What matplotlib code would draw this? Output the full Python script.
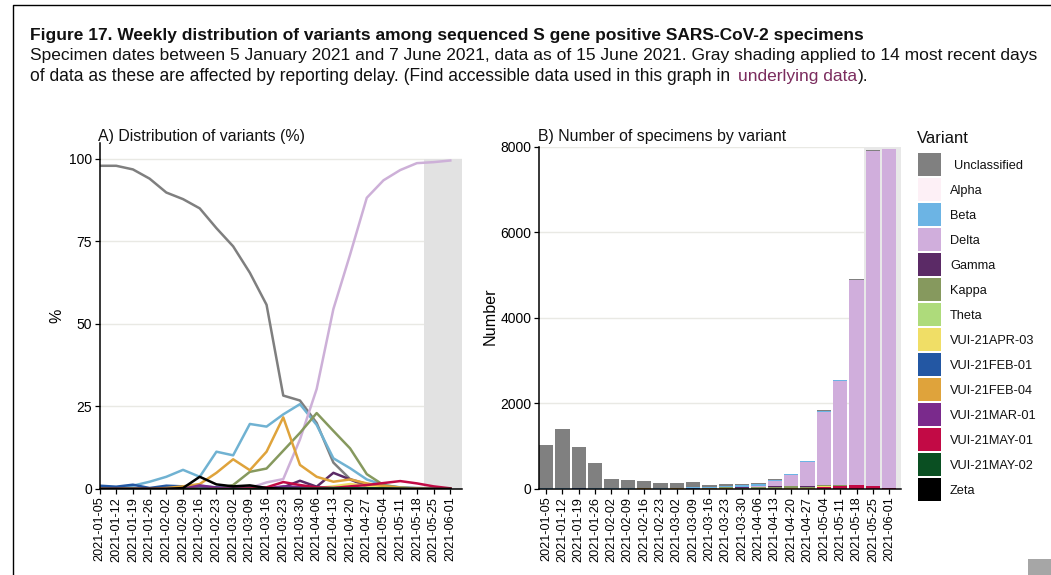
import matplotlib
matplotlib.use("Agg")
import matplotlib.pyplot as plt
import numpy as np
from matplotlib.patches import Rectangle

plt.rcParams["font.family"] = ["Liberation Sans", "DejaVu Sans"]

W, H = 1051, 575

weeks = ["2021-01-05", "2021-01-12", "2021-01-19", "2021-01-26", "2021-02-02", "2021-02-09",
         "2021-02-16", "2021-02-23", "2021-03-02", "2021-03-09", "2021-03-16", "2021-03-23",
         "2021-03-30", "2021-04-06", "2021-04-13", "2021-04-20", "2021-04-27", "2021-05-04",
         "2021-05-11", "2021-05-18", "2021-05-25", "2021-06-01"]

variants = ["Unclassified", "Alpha", "Beta", "Delta", "Gamma", "Kappa", "Theta", "VUI-21APR-03",
            "VUI-21FEB-01", "VUI-21FEB-04", "VUI-21MAR-01", "VUI-21MAY-01", "VUI-21MAY-02", "Zeta"]
colors = ["#808080", "#FDF0F6", "#6CB4E4", "#D0AEDC", "#5B2A66", "#86995E", "#AEDB7B", "#F0DE66",
          "#2357A3", "#DFA33B", "#7A2A8C", "#C20A45", "#0A4F22", "#000000"]
line_colors = ["#7F7F7F", "#FDF0F6", "#70B2D2", "#CDB0D8", "#5B2A66", "#86995E", "#AEDB7B", "#F0DE66",
               "#2357A3", "#DFA33B", "#7A2A8C", "#C20A45", "#0A4F22", "#000000"]

# panel A, percent per week
unclassified = [97.9, 97.9, 96.8, 94.0, 89.8, 87.8, 85.0, 79.0, 73.5, 65.5, 55.8, 28.3,
                26.8, 20.0, 8.0, 3.0, 1.5, 0.8, 0.5, 0.3, 0.2, 0.1]
alpha = [0.0] * 22
beta = [0.5, 0.5, 1.0, 2.2, 3.7, 5.8, 3.7, 11.3, 10.2, 19.7, 18.9, 22.6,
        25.7, 19.4, 9.3, 6.3, 2.9, 1.2, 0.5, 0.2, 0.1, 0.0]
delta = [0.0, 0.0, 0.0, 0.0, 0.0, 0.0, 0.0, 0.0, 0.0, 0.3, 2.0, 3.0,
         15.0, 30.3, 54.5, 71.0, 88.2, 93.5, 96.6, 98.7, 99.0, 99.5]
gamma = [0.0, 0.0, 0.0, 0.0, 0.0, 0.2, 0.8, 0.3, 0.3, 0.5, 0.2, 0.5,
         2.5, 0.7, 4.9, 2.9, 0.8, 0.4, 0.2, 0.1, 0.0, 0.0]
kappa = [0.0, 0.0, 0.0, 0.0, 0.0, 0.0, 0.0, 0.0, 1.2, 5.2, 6.2, 11.6,
         17.0, 23.0, 17.6, 12.3, 4.5, 1.2, 0.4, 0.1, 0.0, 0.0]
theta = [0.0, 0.0, 0.0, 0.0, 0.0, 0.0, 0.0, 0.2, 0.3, 0.2, 0.2, 0.2,
         0.1, 0.1, 0.1, 0.0, 0.0, 0.0, 0.0, 0.0, 0.0, 0.0]
vui_apr03 = [0.0, 0.0, 0.0, 0.0, 0.0, 0.0, 0.0, 0.0, 0.0, 0.0, 0.0, 0.0,
             0.1, 0.3, 0.8, 1.5, 1.0, 0.5, 0.2, 0.1, 0.0, 0.0]
vui_feb01 = [1.0, 0.7, 1.3, 0.3, 1.0, 0.8, 0.8, 0.5, 0.2, 0.2, 0.1, 0.1,
             0.1, 0.0, 0.0, 0.0, 0.0, 0.0, 0.0, 0.0, 0.0, 0.0]
vui_feb04 = [0.0, 0.0, 0.0, 0.0, 0.3, 0.8, 1.5, 4.9, 9.0, 5.7, 11.3, 21.7,
             7.3, 3.7, 2.2, 2.9, 1.7, 0.9, 0.4, 0.1, 0.0, 0.0]
vui_mar01 = [0.0, 0.0, 0.0, 0.0, 0.0, 0.0, 1.1, 0.4, 0.2, 0.2, 0.2, 0.8,
             0.6, 0.4, 0.3, 0.3, 0.2, 0.1, 0.0, 0.0, 0.0, 0.0]
vui_may01 = [0.0, 0.0, 0.0, 0.0, 0.0, 0.0, 0.0, 0.0, 0.0, 0.2, 0.5, 2.1,
             1.2, 0.5, 0.3, 0.8, 1.2, 1.8, 2.4, 1.7, 0.8, 0.2]
vui_may02 = [0.0, 0.0, 0.0, 0.0, 0.0, 0.0, 0.0, 0.0, 0.0, 0.0, 0.0, 0.1,
             0.1, 0.1, 0.2, 0.2, 0.2, 0.2, 0.1, 0.0, 0.0, 0.0]
zeta = [0.0, 0.0, 0.0, 0.0, 0.0, 0.3, 3.7, 1.4, 0.8, 1.1, 0.3, 0.1,
        0.0, 0.0, 0.0, 0.0, 0.0, 0.0, 0.0, 0.0, 0.0, 0.0]

# panel B, bar height per week
totals = [1028, 1394, 989, 600, 226, 210, 187, 148, 132, 156, 93, 109,
          117, 132, 234, 350, 662, 1846, 2547, 4900, 7922, 7945]

shares = np.array([unclassified, alpha, beta, delta, gamma, kappa, theta, vui_apr03,
                   vui_feb01, vui_feb04, vui_mar01, vui_may01, vui_may02, zeta])
counts = shares / shares.sum(axis=0) * np.array(totals)


def box(left, top, right, bottom):
    return [left / W, 1 - bottom / H, (right - left) / W, (bottom - top) / H]


def px_text(x, y, s, **kw):
    fig.text(x / W, 1 - y / H, s, **kw)


def style_axes(ax):
    for side in ["top", "right"]:
        ax.spines[side].set_visible(False)
    for side in ["left", "bottom"]:
        ax.spines[side].set_linewidth(1.1)
    ax.tick_params(axis="y", length=3.5, width=0.9, labelsize=10, pad=2)
    ax.tick_params(axis="x", length=3.5, width=0.9, labelsize=9.1, pad=2, labelrotation=90)
    ax.set_axisbelow(True)
    ax.grid(axis="y", color="#E9E9E4", linewidth=1)


fig = plt.figure(figsize=(W / 100, H / 100), dpi=100)
x = np.arange(len(weeks))

# A) lines
ax1 = fig.add_axes(box(99.5, 143, 462, 489))
ax1.axvspan(19.45, 21.7, ymin=0, ymax=100 / 104.8, color="#E2E2E2", lw=0, zorder=1.5)
for name, row, c in zip(variants, shares, line_colors):
    ax1.plot(x, row, color=c, lw=1.8, zorder=2, label=name)
ax1.set_xlim(0, 21.7)
ax1.set_ylim(0, 104.8)
ax1.set_yticks([0, 25, 50, 75, 100])
ax1.set_xticks(x)
ax1.set_xticklabels(weeks)
style_axes(ax1)

# B) stacked bars, Unclassified ends up on top
ax2 = fig.add_axes(box(539, 146.5, 900.7, 489))
ax2.axvspan(19.45, 21.7, color="#E8E8E8", lw=0, zorder=1.5)
bottom = np.zeros(len(weeks))
for row, c in zip(counts[::-1], colors[::-1]):
    ax2.bar(x, row, bottom=bottom, width=0.88, color=c, lw=0, zorder=2)
    bottom += row
ax2.set_xlim(-0.43, 21.7)
ax2.set_ylim(0, 8000)
ax2.set_yticks([0, 2000, 4000, 6000, 8000])
ax2.set_xticks(x)
ax2.set_xticklabels(weeks)
style_axes(ax2)

# header and frame
fig.add_artist(plt.Line2D([13 / W, 13 / W, 1], [0, 1 - 5 / H, 1 - 5 / H], color="black", lw=1))
px_text(30, 40, "Figure 17. Weekly distribution of variants among sequenced S gene positive SARS-CoV-2 specimens",
        fontsize=12.5, fontweight="bold", color="#111111")
px_text(30, 60, "Specimen dates between 5 January 2021 and 7 June 2021, data as of 15 June 2021. Gray shading applied to 14 most recent days",
        fontsize=12.53, color="#111111")
px_text(30, 81, "of data as these are affected by reporting delay. (Find accessible data used in this graph in",
        fontsize=12.65, color="#111111")
px_text(738, 81, "underlying data", fontsize=12.53, color="#7B2C5E")
px_text(858, 81, ").", fontsize=12.53, color="#111111")

px_text(98, 141, "A) Distribution of variants (%)", fontsize=11.4, color="#111111")
px_text(538, 141, "B) Number of specimens by variant", fontsize=11.4, color="#111111")
px_text(57, 316, "%", fontsize=11.6, rotation=90, ha="center", va="center")
px_text(490, 316, "Number", fontsize=11.6, rotation=90, ha="center", va="center")

# legend
px_text(917, 143, "Variant", fontsize=12, color="#111111")
for i, (name, c) in enumerate(zip(variants, colors)):
    top = 153 + 25 * i
    fig.add_artist(Rectangle((918 / W, 1 - (top + 23) / H), 23 / W, 23 / H, color=c, lw=0,
                             transform=fig.transFigure))
    px_text(954 if i == 0 else 950, top + 13, name, fontsize=9.2, va="center", color="#111111")

# corner of the player icon in the screenshot
fig.add_artist(Rectangle((1028 / W, 0), 23 / W, 16 / H, color="#A6A6A6", lw=0, transform=fig.transFigure))

fig.savefig("out.png", dpi=100)
